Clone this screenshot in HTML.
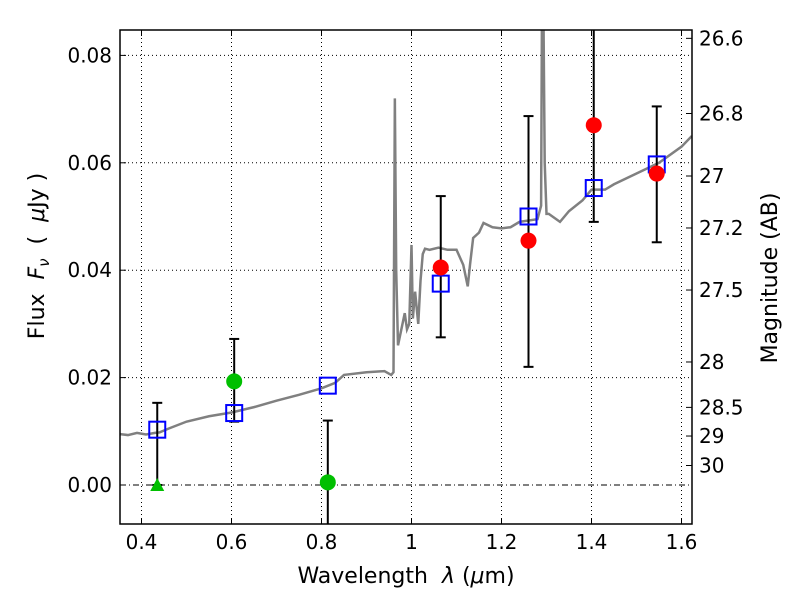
<!DOCTYPE html>
<html><head><meta charset="utf-8"><style>
body{margin:0;background:#fff;width:800px;height:600px;overflow:hidden}
text{font-family:"DejaVu Sans","Liberation Sans",sans-serif;fill:#000}
</style></head><body>
<svg id="c" width="800" height="600" xmlns="http://www.w3.org/2000/svg"></svg>
<script>
const specLam=[0.35,0.37,0.39,0.41,0.43,0.44,0.46,0.5,0.55,0.6,0.65,0.7,0.75,0.8,0.83,0.85,0.9,0.94,0.955,0.96,0.963,0.966,0.97,0.975,0.985,0.99,0.995,1.0,1.003,1.008,1.015,1.02,1.025,1.03,1.04,1.06,1.08,1.1,1.115,1.125,1.13,1.137,1.15,1.16,1.18,1.2,1.22,1.24,1.28,1.288,1.29,1.293,1.296,1.3,1.305,1.33,1.35,1.38,1.4,1.43,1.45,1.5,1.55,1.6,1.623];
const specFlux=[0.0095,0.0093,0.0097,0.0094,0.0097,0.0098,0.0105,0.0118,0.0128,0.0135,0.0145,0.0157,0.0168,0.018,0.019,0.0205,0.021,0.0212,0.0205,0.021,0.072,0.04,0.026,0.028,0.032,0.029,0.03,0.0447,0.031,0.036,0.03,0.038,0.043,0.044,0.0438,0.0442,0.0438,0.0438,0.041,0.037,0.041,0.046,0.047,0.0488,0.048,0.0478,0.048,0.049,0.0495,0.052,0.09,0.09,0.06,0.0505,0.0505,0.049,0.051,0.053,0.055,0.055,0.056,0.058,0.06,0.063,0.065];
const modelLam=[0.435,0.606,0.814,1.065,1.26,1.405,1.545];
const modelFlux=[0.0103,0.0134,0.0185,0.0375,0.0500,0.0553,0.0597];
const redLam=[1.065,1.26,1.405,1.545];
const redFlux=[0.0405,0.0455,0.067,0.058];
const redLo=[0.0275,0.022,0.049,0.0452];
const redHi=[0.0538,0.0687,0.09,0.0705];
const greenLam=[0.606,0.814];
const greenFlux=[0.0193,0.0005];
const greenLo=[0.0118,-0.011];
const greenHi=[0.0272,0.012];
const limLam=[0.435];const limFlux=[0.0];const limHi=[0.0153];
const xTicks=[0.4,0.6,0.8,1.0,1.2,1.4,1.6];
const xTickLabels=["0.4","0.6","0.8","1","1.2","1.4","1.6"];
const yTicks=[0,0.02,0.04,0.06,0.08];
const yTickLabels=["0.00","0.02","0.04","0.06","0.08"];
const magTicks=[26.6,26.8,27,27.2,27.5,28,28.5,29,30];
const magTickLabels=["26.6","26.8","27","27.2","27.5","28","28.5","29","30"];

const L=120,R=692,T=30,B=524;
const X=v=>411.5+(v-1)*450;
const Y=v=>485-v*5370;
const svg=document.getElementById('c');
const NS='http://www.w3.org/2000/svg';
function el(t,a,p){const e=document.createElementNS(NS,t);for(const k in a)e.setAttribute(k,a[k]);(p||svg).appendChild(e);return e;}
const defs=el('defs',{});const cp=el('clipPath',{id:'clip'},defs);el('rect',{x:L,y:T,width:R-L,height:B-T},cp);
const g=el('g',{'clip-path':'url(#clip)'});
xTicks.forEach(v=>{const l=el('line',{x1:X(v),x2:X(v),y1:T,y2:B,stroke:'#000','stroke-width':1,'stroke-dasharray':'1,3'},g);

});
yTicks.forEach(v=>{if(v===0)return;const l=el('line',{x1:L,x2:R,y1:Y(v),y2:Y(v),stroke:'#000','stroke-width':1,'stroke-dasharray':'1,3'},g);

});
const z=el('line',{x1:L,x2:R,y1:Y(0),y2:Y(0),stroke:'#000','stroke-width':1,'stroke-dasharray':'6,3,1,3'},g);


const sp=el('polyline',{points:specLam.map((v,i)=>X(v)+','+Y(specFlux[i])).join(' '),fill:'none',stroke:'#808080','stroke-width':2.5},g);


function errbar(x,lo,hi,name){const e=el('g',{stroke:'#000','stroke-width':2},g);


el('line',{x1:X(x),x2:X(x),y1:Y(lo),y2:Y(hi)},e);
el('line',{x1:X(x)-5,x2:X(x)+5,y1:Y(lo),y2:Y(lo)},e);
el('line',{x1:X(x)-5,x2:X(x)+5,y1:Y(hi),y2:Y(hi)},e);}
redLam.forEach((v,i)=>errbar(v,redLo[i],redHi[i],'red-errorbar'));
greenLam.forEach((v,i)=>errbar(v,greenLo[i],greenHi[i],'green-errorbar'));
limLam.forEach((v,i)=>errbar(v,limFlux[i],limHi[i],'limit-errorbar'));
modelLam.forEach((v,i)=>{const r=el('rect',{x:X(v)-8,y:Y(modelFlux[i])-8,width:16,height:16,fill:'none',stroke:'#0000ff','stroke-width':2},g);

});
redLam.forEach((v,i)=>{const c=el('circle',{cx:X(v),cy:Y(redFlux[i]),r:8,fill:'#ff0000'},g);

});
greenLam.forEach((v,i)=>{const c=el('circle',{cx:X(v),cy:Y(greenFlux[i]),r:8,fill:'#00bf00'},g);

});
limLam.forEach((v,i)=>{const x=X(v),y=Y(limFlux[i]);const p=el('polygon',{points:`${x},${y-7} ${x-7},${y+6} ${x+7},${y+6}`,fill:'#00bf00'},g);

});
const fr=el('rect',{x:L,y:T,width:R-L,height:B-T,fill:'none',stroke:'#000','stroke-width':1.5});


xTicks.forEach((v,i)=>{el('line',{x1:X(v),x2:X(v),y1:B,y2:B-6,stroke:'#000'});el('line',{x1:X(v),x2:X(v),y1:T,y2:T+6,stroke:'#000'});
const t=el('text',{x:X(v),y:B+25,'text-anchor':'middle','font-size':20});t.textContent=xTickLabels[i];

});
yTicks.forEach((v,i)=>{el('line',{x1:L,x2:L+6,y1:Y(v),y2:Y(v),stroke:'#000'});
const t=el('text',{x:L-8,y:Y(v)+7,'text-anchor':'end','font-size':20});t.textContent=yTickLabels[i];

});
magTicks.forEach((m,i)=>{const y=Y(Math.pow(10,(23.9-m)/2.5));el('line',{x1:R,x2:R-6,y1:y,y2:y,stroke:'#000'});
const t=el('text',{x:R+7,y:y+7,'font-size':20});t.textContent=magTickLabels[i];

});
</script>
<svg style="position:absolute;left:0;top:0" width="800" height="600" xmlns="http://www.w3.org/2000/svg">
<text x="406" y="583" text-anchor="middle" font-size="22" xml:space="preserve">Wavelength  <tspan font-style="italic">λ</tspan> (<tspan font-style="italic">μ</tspan>m)</text>
<text transform="translate(44,256) rotate(-90)" text-anchor="middle" font-size="22" xml:space="preserve">Flux  <tspan font-style="italic">F</tspan><tspan font-style="italic" font-size="15" dy="5">ν</tspan><tspan dy="-5">  (  </tspan><tspan font-style="italic">μ</tspan>Jy )</text>
<text transform="translate(777,278) rotate(-90)" text-anchor="middle" font-size="22">Magnitude (AB)</text>
</svg>
</body></html>
